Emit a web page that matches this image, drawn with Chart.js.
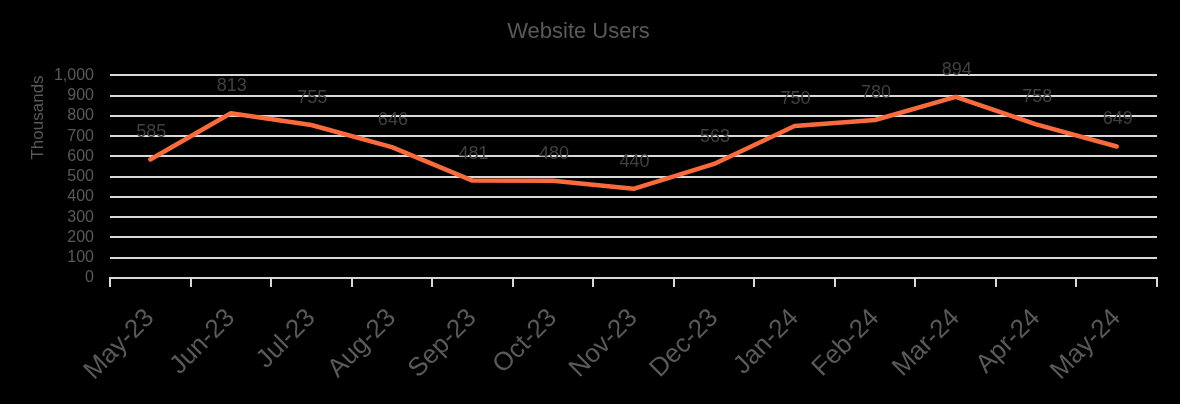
<!DOCTYPE html>
<html>
<head>
<meta charset="utf-8">
<script src="https://cdn.jsdelivr.net/npm/chart.js@4"></script>
<style>
  html, body { margin: 0; padding: 0; background: #000; }
  #wrap { width: 1180px; height: 404px; }
</style>
</head>
<body>
<div id="wrap"><canvas id="users"></canvas></div>
<script>
// data (thousands of users)
const months = ["May-23", "Jun-23", "Jul-23", "Aug-23", "Sep-23", "Oct-23", "Nov-23",
                "Dec-23", "Jan-24", "Feb-24", "Mar-24", "Apr-24", "May-24"];
const users = [585, 813, 755, 646, 481, 480, 440, 563, 750, 780, 894, 758, 649];
const yTicks = [0, 100, 200, 300, 400, 500, 600, 700, 800, 900, 1000];

const arial = "'Liberation Sans', Arial, sans-serif";

// value labels above each point
const valueLabels = {
  id: "valueLabels",
  afterDatasetsDraw(chart) {
    const ctx = chart.ctx;
    const meta = chart.getDatasetMeta(0);
    ctx.save();
    ctx.font = "18px " + arial;
    ctx.fillStyle = "#404040";
    ctx.textAlign = "center";
    ctx.textBaseline = "middle";
    meta.data.forEach((pt, i) => {
      ctx.fillText(users[i].toLocaleString("en-US"), pt.x + 1, pt.y - 27);
    });
    ctx.restore();
  }
};

new Chart(document.getElementById("users"), {
  type: "line",
  data: {
    labels: months,
    datasets: [{
      label: "Users",
      data: users,
      borderColor: "#f96a3c",
      borderWidth: 4.5,
      pointRadius: 0,
      tension: 0,
      borderCapStyle: "round",
      borderJoinStyle: "round"
    }]
  },
  options: {
    responsive: true,
    maintainAspectRatio: false,
    animation: false,
    layout: { padding: { left: 0, right: 23, top: 0, bottom: 0 } },
    plugins: {
      legend: { display: false },
      tooltip: { enabled: false },
      title: {
        display: true,
        text: "Website Users",
        color: "#595959",
        font: { family: arial, size: 22, weight: "normal", lineHeight: 1.2 },
        padding: { top: 19, bottom: 30 }
      }
    },
    scales: {
      x: {
        offset: true,
        afterFit(scale) { scale.height = 126; },
        grid: {
          offset: true,
          drawOnChartArea: false,
          drawTicks: true,
          tickLength: 9,
          color: "#d9d9d9",
          lineWidth: 2
        },
        border: { display: true, color: "#d9d9d9", width: 2 },
        ticks: {
          autoSkip: false,
          minRotation: 45,
          maxRotation: 45,
          padding: 16,
          color: "#595959",
          font: { family: arial, size: 26 }
        }
      },
      y: {
        min: 0,
        max: 1000,
        afterFit(scale) { scale.width = 110; },
        afterBuildTicks(scale) { scale.ticks = yTicks.map(v => ({ value: v })); },
        grid: { color: "#d9d9d9", lineWidth: 2, drawTicks: false },
        border: { display: false },
        ticks: {
          autoSkip: false,
          padding: 16,
          color: "#595959",
          font: { family: arial, size: 16 },
          callback: v => v.toLocaleString("en-US")
        },
        title: {
          display: true,
          text: "Thousands",
          align: "end",
          color: "#595959",
          font: { family: arial, size: 17 },
          padding: { top: 28, bottom: 0 }
        }
      }
    }
  },
  plugins: [valueLabels]
});
</script>
</body>
</html>
